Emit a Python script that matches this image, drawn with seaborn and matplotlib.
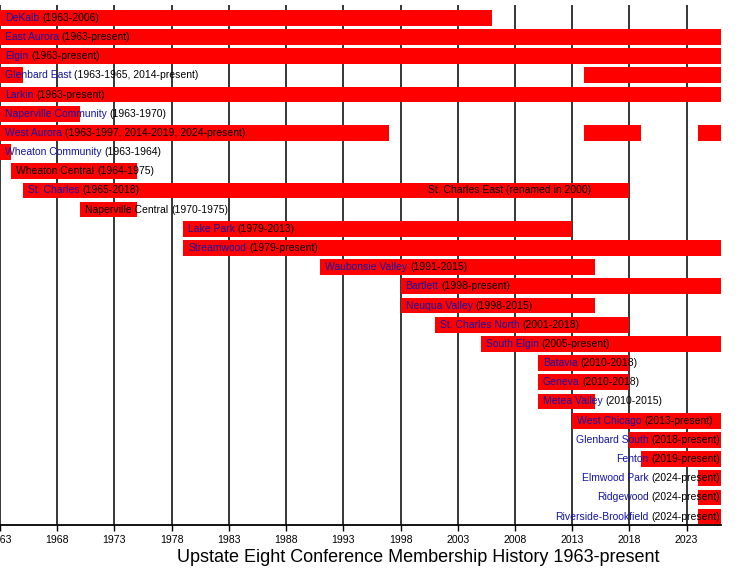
import matplotlib
matplotlib.use("Agg")
import matplotlib.pyplot as plt
import seaborn as sns
import pandas as pd

sns.set_theme(style="white")
plt.rcParams['font.family'] = ['Liberation Sans', 'DejaVu Sans']

PRESENT = 2026

schools = ["DeKalb", "East Aurora", "Elgin", "Glenbard East", "Larkin",
           "Naperville Community", "West Aurora", "Wheaton Community",
           "Wheaton Central", "St. Charles", "Naperville Central", "Lake Park",
           "Streamwood", "Waubonsie Valley", "Bartlett", "Neuqua Valley",
           "St. Charles North", "South Elgin", "Batavia", "Geneva",
           "Metea Valley", "West Chicago", "Glenbard South", "Fenton",
           "Elmwood Park", "Ridgewood", "Riverside-Brookfield"]

periods = [
    [(1963, 2006)],
    [(1963, PRESENT)],
    [(1963, PRESENT)],
    [(1963, 1965), (2014, PRESENT)],
    [(1963, PRESENT)],
    [(1963, 1970)],
    [(1963, 1997), (2014, 2019), (2024, PRESENT)],
    [(1963, 1964)],
    [(1964, 1975)],
    [(1965, 2018)],
    [(1970, 1975)],
    [(1979, 2013)],
    [(1979, PRESENT)],
    [(1991, 2015)],
    [(1998, PRESENT)],
    [(1998, 2015)],
    [(2001, 2018)],
    [(2005, PRESENT)],
    [(2010, 2018)],
    [(2010, 2018)],
    [(2010, 2015)],
    [(2013, PRESENT)],
    [(2018, PRESENT)],
    [(2019, PRESENT)],
    [(2024, PRESENT)],
    [(2024, PRESENT)],
    [(2024, PRESENT)],
]

# schools without a link (drawn in black)
unlinked = ["Wheaton Central", "Naperville Central"]

# extra note inside a bar
note_school = "St. Charles"
note_year = 2000
note_text = "St. Charles East (renamed in 2000)"

tick_years = list(range(1963, 2024, 5))
title = "Upstate Eight Conference Membership History 1963-present"

bar_red = "#ff0000"
link_blue = "#1414a8"

rows = []
for i, (name, segs) in enumerate(zip(schools, periods)):
    for s, e in segs:
        rows.append(dict(row=i, school=name, start=s, end=e))
df = pd.DataFrame(rows)


def years_label(segs):
    parts = []
    for s, e in segs:
        parts.append(f"{s}-{'present' if e == PRESENT else e}")
    return "(" + ", ".join(parts) + ")"


fig = plt.figure(figsize=(7.5, 5.75), dpi=100)
ax = fig.add_axes([0, 50 / 575, 721 / 750, 520 / 575])

ax.barh(df["row"], df["end"] - df["start"], left=df["start"], height=0.82,
        color=bar_red, linewidth=0, zorder=2)

ax.set_xlim(1963, PRESENT)
ax.set_ylim(26.44, -0.667)
ax.set_yticks([])
ax.set_xticks(tick_years)
ax.set_xticklabels([str(y) for y in tick_years])
ax.grid(axis="x", color="black", linewidth=1.1, zorder=0)
ax.grid(axis="y", visible=False)
ax.set_axisbelow(True)
for side in ["left", "top", "right"]:
    ax.spines[side].set_visible(False)
ax.spines["bottom"].set_color("black")
ax.spines["bottom"].set_linewidth(1.3)
ax.tick_params(axis="x", bottom=True, direction="out", length=4, width=1,
               color="black", labelsize=7.6, pad=3.5, labelcolor="black")

fs = 7.5
gap = 2.0
labels = []
for i, (name, segs) in enumerate(zip(schools, periods)):
    color = "black" if name in unlinked else link_blue
    x0 = segs[0][0]
    t1 = ax.annotate(name, xy=(x0, i), xytext=(3.6, 0), textcoords="offset points",
                     ha="left", va="center", fontsize=fs, color=color, zorder=5)
    t2 = ax.annotate(years_label(segs), xy=(1, 0), xycoords=t1,
                     xytext=(gap, 0), textcoords="offset points",
                     ha="left", va="bottom", fontsize=fs, color="black", zorder=5)
    labels.append((i, name, color, segs, t1, t2))

ax.annotate(note_text, xy=(note_year, schools.index(note_school)), xytext=(3.6, 0),
            textcoords="offset points", ha="left", va="center", fontsize=fs,
            color="black", zorder=5)

# labels that run past the right edge get right-aligned to it
fig.canvas.draw()
right = ax.get_window_extent().x1
for i, name, color, segs, t1, t2 in labels:
    if t2.get_window_extent().x1 > right:
        t1.remove()
        t2.remove()
        r = ax.annotate(years_label(segs), xy=(PRESENT, i), xytext=(-0.5, 0),
                        textcoords="offset points", ha="right", va="center",
                        fontsize=fs, color="black", zorder=5)
        ax.annotate(name, xy=(0, 0), xycoords=r, xytext=(-gap, 0),
                    textcoords="offset points", ha="right", va="bottom",
                    fontsize=fs, color=color, zorder=5)

fig.text(418 / 750, 1 - 557 / 575, title, ha="center", va="center",
         fontsize=13, color="black")

fig.savefig("out.png", dpi=100)
